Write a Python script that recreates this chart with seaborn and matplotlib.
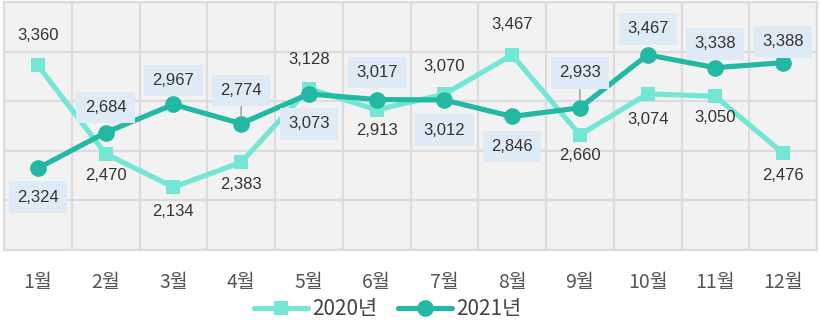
import matplotlib
matplotlib.use("Agg")
import matplotlib.pyplot as plt
import seaborn as sns
import pandas as pd
import numpy as np

months = ["1월", "2월", "3월", "4월", "5월", "6월", "7월", "8월", "9월", "10월", "11월", "12월"]
y2020 = [3360, 2470, 2134, 2383, 3128, 2913, 3070, 3467, 2660, 3074, 3050, 2476]
y2021 = [2324, 2684, 2967, 2774, 3073, 3017, 3012, 2846, 2933, 3467, 3338, 3388]
series_names = ["2020년", "2021년"]

# label offsets in pixels (layout only)
off2020 = [-30, 22, 24, 22, -29, 21, -28, -30, 21, 26, 21, 22]
off2021 = [29, -25, -24, -33, 30, -27, 30, 30, -35, -26, -24, -21]
leader2021 = [False, False, False, True, False, False, False, False, True, False, False, False]

c2020 = "#74e6d6"
c2021 = "#22b8a3"

sns.set_theme(style="white")
plt.rcParams['font.family'] = ['Noto Sans CJK KR', 'DejaVu Sans']

fig = plt.figure(figsize=(8.21, 3.23), dpi=100)
ax = fig.add_axes([4/821, 1-250/323, 813/821, 248/323])
ax.set_facecolor("#f2f2f2")

x = np.arange(len(months))
df = pd.DataFrame({"x": np.concatenate([x, x]),
                   "v": y2020 + y2021,
                   "s": [series_names[0]]*12 + [series_names[1]]*12})

sns.lineplot(data=df[df.s == series_names[0]], x="x", y="v", ax=ax, color=c2020,
             lw=3.7, marker="s", markersize=10, markeredgewidth=0, label=series_names[0], zorder=3)
sns.lineplot(data=df[df.s == series_names[1]], x="x", y="v", ax=ax, color=c2021,
             lw=3.7, marker="o", markersize=12, markeredgewidth=0, label=series_names[1], zorder=4)

ax.set_xlim(-0.5, 11.5)
ax.set_ylim(1500, 4000)
ax.set_yticks(np.arange(1500, 4001, 500))
ax.set_yticklabels([])
ax.set_xticks(x)
ax.set_xticklabels(months, fontsize=14, color="#555555", fontweight="medium")
ax.set_xticks(np.arange(-0.5, 12, 1), minor=True)
ax.tick_params(axis="x", which="both", length=0, pad=16)
ax.tick_params(axis="y", length=0)
ax.grid(True, axis="y", color="#dcdcdc", lw=1.6)
ax.grid(True, axis="x", which="minor", color="#dcdcdc", lw=1.6)
ax.grid(False, axis="x", which="major")
for sp in ax.spines.values():
    sp.set_color("#dcdcdc")
    sp.set_linewidth(1.6)
ax.set_xlabel("")
ax.set_ylabel("")
ax.get_legend().remove()

def fmt(v):
    return f"{v:,}"

for i in range(12):
    ax.annotate(fmt(y2020[i]), (x[i], y2020[i]), xytext=(0, -off2020[i] * 0.72),
                textcoords="offset points", ha="center", va="center",
                fontsize=12, color="#333333", family="Liberation Sans", zorder=5)
    ap = dict(arrowstyle="-", color="#999999", lw=1, shrinkA=0, shrinkB=6) if leader2021[i] else None
    ax.annotate(fmt(y2021[i]), (x[i], y2021[i]), xytext=(0, -off2021[i] * 0.72),
                textcoords="offset points", ha="center", va="center",
                fontsize=12, color="#333333", family="Liberation Sans", zorder=6,
                bbox=dict(boxstyle="square,pad=0.5", fc="#deeaf6", ec="none"),
                arrowprops=ap)

handles, labels = ax.get_legend_handles_labels()
fig.legend(handles, labels, loc="center", bbox_to_anchor=(0.472, 0.042), ncol=2,
           frameon=False, fontsize=15, handlelength=2.6, columnspacing=1.0,
           handletextpad=0.2, labelcolor="#444444")

fig.savefig("out.png", dpi=100, facecolor="white")
